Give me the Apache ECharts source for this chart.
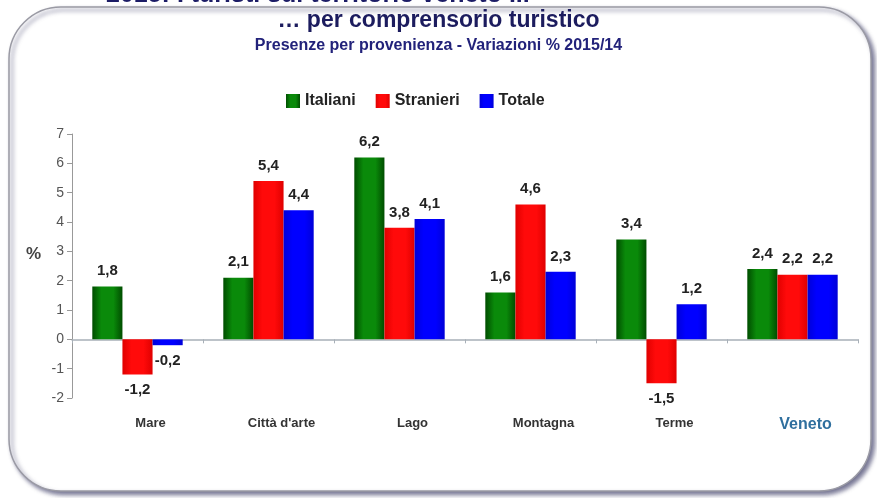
<!DOCTYPE html>
<html>
<head>
<meta charset="utf-8">
<script src="https://cdn.jsdelivr.net/npm/echarts@6/dist/echarts.min.js"></script>
<style>
html,body{margin:0;padding:0;background:#fff;}
#chart{width:877px;height:498px;}
</style>
</head>
<body>
<div id="chart"></div>
<script>
var categories = ['Mare', "Città d'arte", 'Lago', 'Montagna', 'Terme', 'Veneto'];
var italiani = [1.8, 2.1, 6.2, 1.6, 3.4, 2.4];
var stranieri = [-1.2, 5.4, 3.8, 4.6, -1.5, 2.2];
var totale = [-0.2, 4.4, 4.1, 2.3, 1.2, 2.2];
var seriesNames = ['Italiani', 'Stranieri', 'Totale'];
var yTicks = [-2, -1, 0, 1, 2, 3, 4, 5, 6, 7];

var chart = echarts.init(document.getElementById('chart'), null, {renderer: 'canvas'});

function grad(edge, mid) {
  return new echarts.graphic.LinearGradient(0, 0, 1, 0, [
    {offset: 0, color: edge},
    {offset: 0.3, color: mid},
    {offset: 0.7, color: mid},
    {offset: 1, color: edge}
  ]);
}

function fmt(p) { return String(p.value).replace('.', ','); }

function makeSeries(name, data, color) {
  return {
    name: name,
    type: 'bar',
    data: data.map(function (v) {
      return {
        value: v,
        label: {position: v < 0 ? 'bottom' : 'top'}
      };
    }),
    barGap: '0%',
    barCategoryGap: '31%',
    itemStyle: {color: color},
    label: {
      show: true,
      formatter: fmt,
      distance: 8,
      fontFamily: 'Liberation Sans, Arial, sans-serif',
      fontWeight: 'bold',
      fontSize: 15,
      color: '#222'
    }
  };
}

var option = {
  backgroundColor: '#ffffff',
  animation: false,
  graphic: [
    {
      type: 'rect',
      z: -10,
      shape: {x: 9, y: 7, width: 862, height: 484, r: 52},
      style: {
        fill: '#ffffff',
        stroke: '#9a9aa4',
        lineWidth: 1.5,
        shadowColor: 'rgba(70,70,110,0.75)',
        shadowBlur: 4,
        shadowOffsetX: 3,
        shadowOffsetY: 3
      }
    },
    {
      type: 'text',
      left: 106,
      top: -17,
      z: 5,
      style: {
        text: '2015: I turisti sul territorio veneto ...',
        fontFamily: 'Liberation Sans, Arial, sans-serif',
        fontWeight: 'bold',
        fontSize: 25,
        fill: '#1c1c66'
      }
    },
    {
      type: 'text',
      left: 26,
      top: 246,
      style: {
        text: '%',
        fontFamily: 'Liberation Sans, Arial, sans-serif',
        fontWeight: 'bold',
        fontSize: 17,
        fill: '#444'
      }
    }
  ],
  title: [
    {
      text: '… per comprensorio turistico',
      left: 'center',
      top: 4,
      textStyle: {
        fontFamily: 'Liberation Sans, Arial, sans-serif',
        fontWeight: 'bold',
        fontSize: 23,
        color: '#1c1c5e'
      }
    },
    {
      text: 'Presenze per provenienza - Variazioni % 2015/14',
      left: 'center',
      top: 33,
      textStyle: {
        fontFamily: 'Liberation Sans, Arial, sans-serif',
        fontWeight: 'bold',
        fontSize: 16,
        color: '#22227a'
      }
    }
  ],
  legend: {
    data: seriesNames,
    top: 88,
    left: 281,
    itemWidth: 14,
    itemHeight: 14,
    itemGap: 20,
    icon: 'rect',
    textStyle: {
      fontFamily: 'Liberation Sans, Arial, sans-serif',
      fontWeight: 'bold',
      fontSize: 16,
      color: '#222'
    }
  },
  grid: {left: 72, right: 19, top: 134, bottom: 100},
  xAxis: {
    type: 'category',
    data: categories,
    axisLine: {onZero: true, lineStyle: {color: '#a8b0b8', width: 1.5}},
    axisTick: {show: true, length: 4, lineStyle: {color: '#a8b0b8'}},
    axisLabel: {
      margin: 19,
      interval: 0,
      fontFamily: 'Liberation Sans, Arial, sans-serif',
      fontWeight: 'bold',
      fontSize: 13,
      color: '#333',
      padding: [0, 0, 0, 26],
      formatter: function (v) {
        return v === 'Veneto' ? '{v|' + v + '}' : v;
      },
      rich: {
        v: {
          fontFamily: 'Liberation Sans, Arial, sans-serif',
          fontWeight: 'bold',
          fontSize: 16,
          color: '#2f6f9e',
          padding: [0, 0, 8, 0]
        }
      }
    }
  },
  yAxis: {
    type: 'value',
    min: yTicks[0],
    max: yTicks[yTicks.length - 1],
    interval: 1,
    splitLine: {show: false},
    axisLine: {show: true, lineStyle: {color: '#999'}},
    axisTick: {show: true, length: 5, lineStyle: {color: '#999'}},
    axisLabel: {
      margin: 8,
      fontFamily: 'Liberation Sans, Arial, sans-serif',
      fontSize: 14,
      color: '#555'
    }
  },
  series: [
    makeSeries(seriesNames[0], italiani, grad('#004d00', '#0a8a0a')),
    makeSeries(seriesNames[1], stranieri, grad('#e00000', '#ff0a0a')),
    makeSeries(seriesNames[2], totale, grad('#0000d8', '#0000ff'))
  ]
};
chart.setOption(option);
</script>
</body>
</html>
